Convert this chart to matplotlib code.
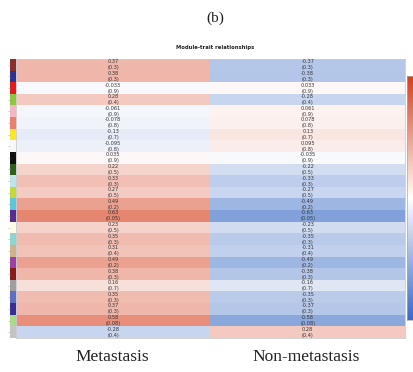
import matplotlib
matplotlib.use("Agg")
import matplotlib.pyplot as plt
import numpy as np
from matplotlib.colors import LinearSegmentedColormap, ListedColormap

traits = ["Metastasis", "Non-metastasis"]

module_colors = ["#8B2E2E", "#2E3192", "#E31A1C", "#8CC63F", "#F4B6C2", "#E9806E",
                 "#FFE629", "#F8F8F8", "#111111", "#2F5F1F", "#BDE5E8", "#C5D83A",
                 "#5BC6D8", "#5B2C90", "#FFFBE6", "#8ED5D0", "#CDB38B", "#9C3FA8",
                 "#8B1A1A", "#9E9E9E", "#5D6FC4", "#3A2D95", "#A9D98A", "#C4C4C4"]

cor_meta = [0.37, 0.38, -0.033, 0.28, -0.061, -0.078, -0.13, -0.095, 0.035, 0.22,
            0.33, 0.27, 0.49, 0.63, 0.23, 0.35, 0.31, 0.49, 0.38, 0.16,
            0.35, 0.37, 0.58, -0.28]
cor_nonmeta = [-0.37, -0.38, 0.033, -0.28, 0.061, 0.078, 0.13, 0.095, -0.035, -0.22,
               -0.33, -0.27, -0.49, -0.63, -0.23, -0.35, -0.31, -0.49, -0.38, -0.16,
               -0.35, -0.37, -0.58, 0.28]
pvals = ["0.3", "0.3", "0.9", "0.4", "0.9", "0.8", "0.7", "0.8", "0.9", "0.5",
         "0.3", "0.5", "0.2", "0.05", "0.5", "0.3", "0.4", "0.2", "0.3", "0.7",
         "0.3", "0.3", "0.08", "0.4"]

cmap = LinearSegmentedColormap.from_list("bwr_wgcna", ["#3A6BC5", "#FFFFFF", "#D6401E"])

W, H = 413, 372
fig = plt.figure(figsize=(W / 100, H / 100), dpi=100)


def px_axes(x0, y0, x1, y1):
    return fig.add_axes([x0 / W, 1 - y1 / H, (x1 - x0) / W, (y1 - y0) / H])


n = len(cor_meta)
mat = np.column_stack([cor_meta, cor_nonmeta])

ax = px_axes(16, 59, 405, 338)
ax.imshow(mat, cmap=cmap, vmin=-1, vmax=1, aspect="auto", interpolation="nearest")
for i in range(n):
    for j, vals in enumerate([cor_meta, cor_nonmeta]):
        ax.text(j, i, f"{vals[i]:g}\n({pvals[i]})", ha="center", va="center",
                fontsize=3.6, color="#333333", linespacing=1.25)
ax.set_xticks([])
ax.set_yticks([])
for s in ax.spines.values():
    s.set_color("#CCCCCC")
    s.set_linewidth(0.6)

# module colour strip
axs = px_axes(10, 59, 16, 338)
axs.imshow(np.arange(n).reshape(-1, 1), cmap=ListedColormap(module_colors),
           aspect="auto", interpolation="nearest")
axs.set_xticks([])
axs.set_yticks(range(n))
axs.set_yticklabels([])
axs.tick_params(axis="y", length=1.5, width=0.4, color="#AAAAAA", pad=0)
for s in axs.spines.values():
    s.set_visible(False)

# colour bar
axc = px_axes(407, 76, 413, 320)
axc.imshow(np.linspace(1, -1, 200).reshape(-1, 1), cmap=cmap, vmin=-1, vmax=1,
           aspect="auto", interpolation="bilinear")
axc.set_xticks([])
axc.set_yticks([])
for s in axc.spines.values():
    s.set_color("#AAAAAA")
    s.set_linewidth(0.5)

fig.text(215 / W, 1 - 47 / H, "Module-trait relationships", ha="center", va="center",
         fontsize=3.8, fontweight="bold", color="#222222")
fig.text(215 / W, 1 - 18 / H, "(b)", ha="center", va="center",
         fontsize=11, family="Liberation Serif", color="#222222")
fig.text(112 / W, 1 - 357 / H, traits[0], ha="center", va="center",
         fontsize=12.5, family="Liberation Serif", color="#222222")
fig.text(306 / W, 1 - 357 / H, traits[1], ha="center", va="center",
         fontsize=12.5, family="Liberation Serif", color="#222222")

fig.savefig("out.png", dpi=100)
